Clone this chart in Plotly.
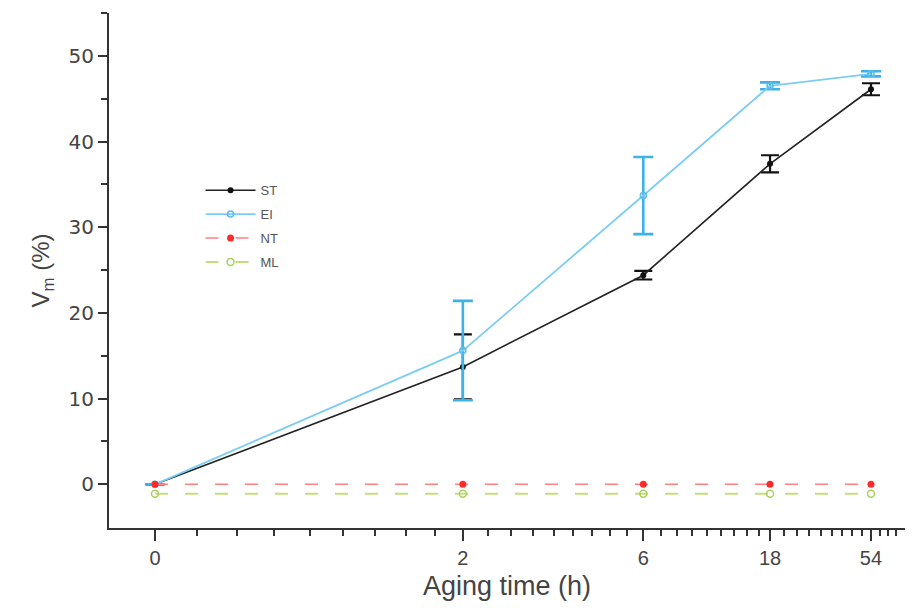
import numpy as np
import plotly.graph_objects as go

# ---------------- data ----------------
times = [0, 2, 6, 18, 54]
tick_labels = ["0", "2", "6", "18", "54"]

st = [0.0, 13.7, 24.4, 37.4, 46.1]
st_err = [0.0, 3.8, 0.5, 1.0, 0.7]

ei = [0.0, 15.6, 33.7, 46.5, 47.9]
ei_err = [0.0, 5.8, 4.5, 0.4, 0.3]

nt = [0.0, 0.0, 0.0, 0.0, 0.0]
ml = [-1.1, -1.1, -1.1, -1.1, -1.1]

y_ticks = [0, 10, 20, 30, 40, 50]
y_minor = [5, 15, 25, 35, 45, 55]

# ---------------- custom x scale (segmented, compressed like the original axis) ----------------
SEG_POS = [0.0, 0.430, 0.682, 0.859, 1.0]   # relative position of each major tick
WARP = 1.6                                    # compression inside a segment


def xscale(t):
    t = np.atleast_1d(np.asarray(t, dtype=float))
    out = np.empty_like(t)
    for k, v in enumerate(t):
        i = int(np.searchsorted(times, v, side="right") - 1)
        i = min(max(i, 0), len(times) - 2)
        a, b = times[i], times[i + 1]
        frac = (v - a) / (b - a)
        f = np.log(1 + (WARP - 1) * frac) / np.log(WARP)
        out[k] = SEG_POS[i] + (SEG_POS[i + 1] - SEG_POS[i]) * f
    return out


minor_x = []
for i in range(len(times) - 1):
    a, b = times[i], times[i + 1]
    step = (b - a) / 9
    minor_x += [a + step * j for j in range(1, 9)]
step_last = (times[-1] - times[-2]) / 9
minor_x += [times[-1] + step_last * j for j in range(1, 4)]

X = xscale(times)

fig = go.Figure()

fig.add_trace(go.Scatter(
    x=X, y=st, name="ST", mode="lines+markers", legendgroup="a",
    line=dict(color="#222222", width=1.6),
    marker=dict(symbol="circle", size=6, color="#111111"),
    error_y=dict(type="data", array=st_err, visible=True, color="#111111", thickness=2.2, width=9),
))
fig.add_trace(go.Scatter(
    x=X, y=ei, name="EI", mode="lines+markers", legendgroup="b",
    line=dict(color="#7ccdf3", width=1.8),
    marker=dict(symbol="circle-open", size=6, color="#5bbde9", line=dict(width=1.5)),
    error_y=dict(type="data", array=ei_err, visible=True, color="#3db2e6", thickness=2.6, width=10),
))
fig.add_trace(go.Scatter(
    x=X, y=nt, name="NT", mode="lines+markers", legendgroup="c",
    line=dict(color="#ff8080", width=1.6, dash="13px,17px"),
    marker=dict(symbol="circle", size=7, color="#ff2a2a"),
))
fig.add_trace(go.Scatter(
    x=X, y=ml, name="ML", mode="lines+markers", legendgroup="d",
    line=dict(color="#c3de7c", width=2, dash="13px,17px"),
    marker=dict(symbol="circle-open", size=7, color="#a9d15c", line=dict(width=1.5)),
))

axis_col = "#333333"
font_main = "Liberation Sans, Arial, sans-serif"

fig.update_layout(
    width=920, height=608, autosize=False,
    margin=dict(l=109, r=15, t=13, b=80),
    paper_bgcolor="white", plot_bgcolor="white",
    font=dict(family=font_main, color="#444444"),
    showlegend=True,
    legend=dict(
        x=0.115, y=0.685, xanchor="left", yanchor="top",
        bgcolor="rgba(0,0,0,0)", borderwidth=0,
        font=dict(size=13, color="#555555", family=font_main),
        tracegroupgap=4, itemwidth=50,
    ),
    xaxis=dict(
        range=[-0.0642, 1.0475],
        tickmode="array", tickvals=X, ticktext=tick_labels,
        ticks="outside", ticklen=11, tickwidth=2, tickcolor=axis_col,
        showline=True, linecolor=axis_col, linewidth=2,
        showgrid=False, zeroline=False,
        tickfont=dict(size=20, color="#444444", family="Liberation Sans Narrow, Liberation Sans, Arial"),
        minor=dict(tickmode="array", tickvals=list(xscale(minor_x)),
                   ticks="outside", ticklen=6, tickwidth=1.6, tickcolor=axis_col, showgrid=False),
        title=dict(text="Aging time (h)", font=dict(size=27, color="#444444", family=font_main), standoff=8),
    ),
    yaxis=dict(
        range=[-5.1, 55],
        tickmode="array", tickvals=y_ticks,
        ticks="outside", ticklen=9, tickwidth=2, tickcolor=axis_col,
        showline=True, linecolor=axis_col, linewidth=2,
        showgrid=False, zeroline=False,
        tickfont=dict(size=20, color="#444444", family="DejaVu Sans, Verdana, sans-serif"),
        minor=dict(tickmode="array", tickvals=y_minor,
                   ticks="outside", ticklen=6, tickwidth=1.6, tickcolor=axis_col, showgrid=False),
        title=dict(text="V<sub>m</sub> (%)", font=dict(size=24, color="#444444", family=font_main), standoff=12),
    ),
)

fig.write_html("out.html")
